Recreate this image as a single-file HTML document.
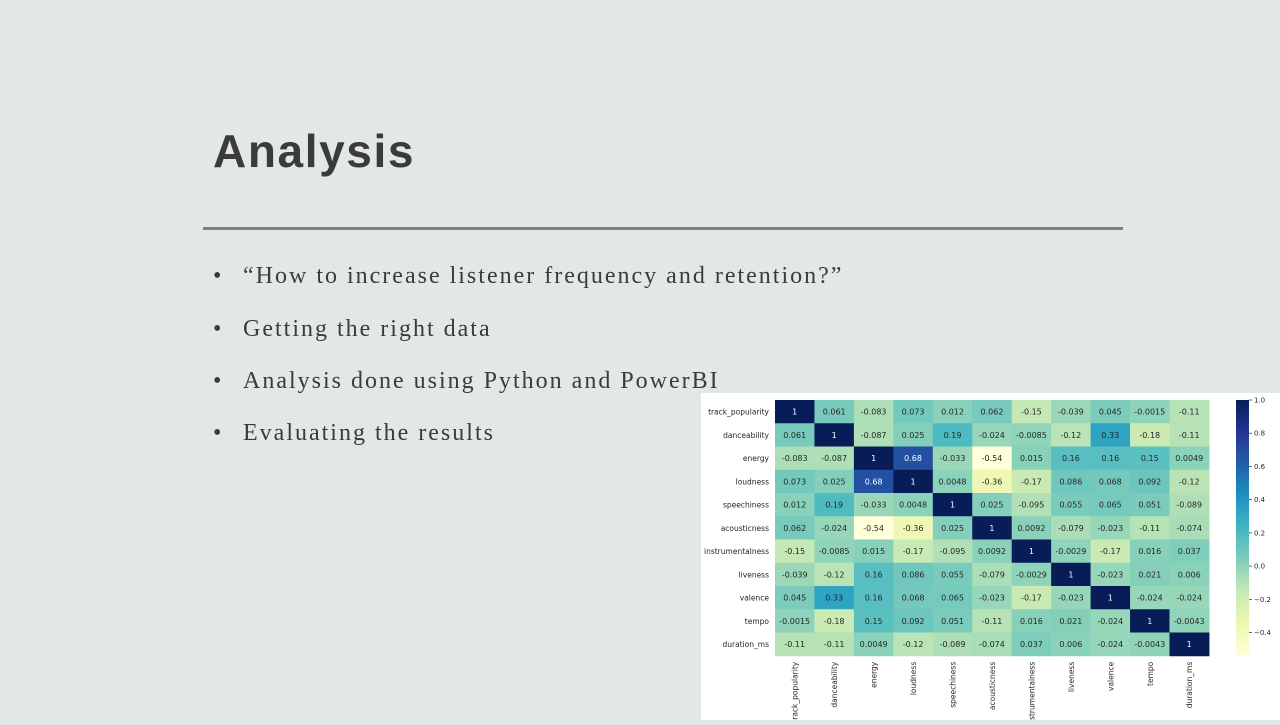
<!DOCTYPE html>
<html><head><meta charset="utf-8"><style>
body{margin:0;width:1280px;height:720px;overflow:hidden;background:#e2e8e7;position:relative;font-family:"Liberation Sans",sans-serif}
#title{position:absolute;left:213px;top:124px;font-size:46px;font-weight:bold;color:#3b3b3b;letter-spacing:1.6px}
#rule{position:absolute;left:203px;top:227px;width:920px;height:3px;background:#7f7f7f}
.b{position:absolute;left:213px;font-family:"Liberation Serif",serif;font-size:24px;color:#3b3b3b;letter-spacing:2px}
.b span{display:inline-block;width:30px;letter-spacing:0}
#panel{position:absolute;left:701px;top:393px;width:579px;height:327px;background:#fff}
</style></head><body>
<div id="title">Analysis</div>
<div id="rule"></div>
<div class="b" style="top:263px"><span>•</span>“How to increase listener frequency and retention?”</div>
<div class="b" style="top:316px"><span>•</span>Getting the right data</div>
<div class="b" style="top:368px"><span>•</span>Analysis done using Python and PowerBI</div>
<div class="b" style="top:420px"><span>•</span>Evaluating the results</div>
<div id="panel">
<svg id="svg" width="579" height="327" xmlns="http://www.w3.org/2000/svg"></svg>
</div>
<script>
const labels=["track_popularity","danceability","energy","loudness","speechiness","acousticness","instrumentalness","liveness","valence","tempo","duration_ms"];
const values=[
[1,0.061,-0.083,0.073,0.012,0.062,-0.15,-0.039,0.045,-0.0015,-0.11],
[0.061,1,-0.087,0.025,0.19,-0.024,-0.0085,-0.12,0.33,-0.18,-0.11],
[-0.083,-0.087,1,0.68,-0.033,-0.54,0.015,0.16,0.16,0.15,0.0049],
[0.073,0.025,0.68,1,0.0048,-0.36,-0.17,0.086,0.068,0.092,-0.12],
[0.012,0.19,-0.033,0.0048,1,0.025,-0.095,0.055,0.065,0.051,-0.089],
[0.062,-0.024,-0.54,-0.36,0.025,1,0.0092,-0.079,-0.023,-0.11,-0.074],
[-0.15,-0.0085,0.015,-0.17,-0.095,0.0092,1,-0.0029,-0.17,0.016,0.037],
[-0.039,-0.12,0.16,0.086,0.055,-0.079,-0.0029,1,-0.023,0.021,0.006],
[0.045,0.33,0.16,0.068,0.065,-0.023,-0.17,-0.023,1,-0.024,-0.024],
[-0.0015,-0.18,0.15,0.092,0.051,-0.11,0.016,0.021,-0.024,1,-0.0043],
[-0.11,-0.11,0.0049,-0.12,-0.089,-0.074,0.037,0.006,-0.024,-0.0043,1]];
const cbTicks=[1.0,0.8,0.6,0.4,0.2,0.0,-0.2,-0.4];
const vmin=-0.54,vmax=1;
const stops=["#ffffd9","#edf8b1","#c7e9b4","#7fcdbb","#41b6c4","#1d91c0","#225ea8","#253494","#081d58"];
function hx(c){return [1,3,5].map(i=>parseInt(c.substr(i,2),16));}
function cmap(v){let t=Math.max(0,Math.min(1,(v-vmin)/(vmax-vmin)))*(stops.length-1);let i=Math.min(Math.floor(t),stops.length-2),f=t-i;
const a=hx(stops[i]),b=hx(stops[i+1]);return "rgb("+a.map((x,k)=>Math.round(x+(b[k]-x)*f)).join(",")+")";}
const NS="http://www.w3.org/2000/svg",svg=document.getElementById("svg");
const X0=74,Y0=7,CW=39.45,CH=23.25;
const xs=i=>X0+i*CW, ys=i=>Y0+i*CH;
function el(n,a,p){const e=document.createElementNS(NS,n);for(const k in a)e.setAttribute(k,a[k]);(p||svg).appendChild(e);return e;}
values.forEach((row,r)=>row.forEach((v,c)=>{
 const rc=el("rect",{x:xs(c),y:ys(r),width:CW+0.5,height:CH+0.5,fill:cmap(v)});
 
 
 const t=el("text",{x:xs(c)+CW/2,y:ys(r)+CH/2+3,"text-anchor":"middle","font-size":"8","font-family":"DejaVu Sans, sans-serif",fill:(v-vmin)/(vmax-vmin)>0.62?"#fff":"#262626"});
 t.textContent=String(v);
 
 
}));
labels.forEach((l,i)=>{
 const t=el("text",{x:X0-6,y:ys(i)+CH/2+3,"text-anchor":"end","font-size":"7.5","font-family":"DejaVu Sans, sans-serif",fill:"#262626"});
 t.textContent=l;
 
 
 const cx=xs(i)+CW/2+3,cy=Y0+11*CH+6;
 const u=el("text",{x:cx,y:cy,"text-anchor":"end","font-size":"7.5","font-family":"DejaVu Sans, sans-serif",fill:"#262626",transform:"rotate(-90 "+cx+" "+cy+")"});
 u.textContent=l;
 
 
});
const CBX=535,CBW=13,CBY0=Y0,CBH=11*CH;
const cy=v=>CBY0+(vmax-v)/(vmax-vmin)*CBH;
const g=el("defs",{});const lg=el("linearGradient",{id:"cbg",x1:0,y1:1,x2:0,y2:0},g);
stops.forEach((s,i)=>el("stop",{offset:i/(stops.length-1),"stop-color":s},lg));
const cb=el("rect",{x:CBX,y:CBY0,width:CBW,height:CBH,fill:"url(#cbg)"});


cbTicks.forEach(v=>{
 el("line",{x1:CBX+CBW,x2:CBX+CBW+3,y1:cy(v),y2:cy(v),stroke:"#262626","stroke-width":0.7});
 const t=el("text",{x:CBX+CBW+5,y:cy(v)+2.5,"font-size":"7","font-family":"DejaVu Sans, sans-serif",fill:"#262626"});
 t.textContent=(v<0?"\u2212"+(-v).toFixed(1):v.toFixed(1));
 
 
});
</script>
</body></html>
